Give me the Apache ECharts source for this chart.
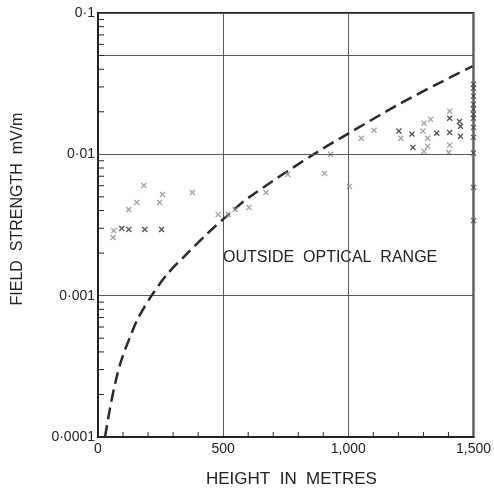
<!DOCTYPE html>
<html>
<head>
<meta charset="utf-8">
<script src="https://cdn.jsdelivr.net/npm/echarts@6/dist/echarts.min.js"></script>
<style>html,body{margin:0;padding:0;background:#fff}#c{width:494px;height:492px}</style>
</head>
<body>
<div id="c"></div>
<script>
// Height (m) ticks and field strength ticks
const xTickValues = [0, 500, 1000, 1500];
const xTickLabels = ['0', '500', '1,000', '1,500'];
const xMinorTicks = [100, 200, 300, 400, 600, 700, 800, 900, 1100, 1200, 1300, 1400];
const yTickValues = [0.0001, 0.001, 0.01, 0.1];
const yTickLabels = ['0·0001', '0·001', '0·01', '0·1'];
const extraGridY = [0.05, 0.005, 0.0005];
const yMinorTicks = [0.0002,0.0003,0.0004,0.0005,0.0006,0.0007,0.0008,0.0009,
                     0.002,0.003,0.004,0.005,0.006,0.007,0.008,0.009,
                     0.02,0.03,0.04,0.05,0.06,0.07,0.08,0.09];

// Dashed curve (theoretical)
const curveHeights = [28, 48, 71, 95, 127, 159, 214, 278, 357, 437, 504, 603, 869, 1008, 1198, 1345, 1496];
const curveField   = [0.0001, 0.00016, 0.00025, 0.000357, 0.000504, 0.000687, 0.001, 0.00143, 0.00199, 0.00275, 0.00352, 0.00496, 0.0102, 0.0143, 0.0224, 0.0308, 0.042];

// Measured points (light crosses)
const grayPoints = [
  [60,0.00258],[63,0.00289],[123,0.00407],[155,0.00457],[183,0.00603],[246,0.00457],
  [258,0.0052],[377,0.00537],[480,0.00375],[520,0.00375],[548,0.00407],[603,0.00421],
  [671,0.00537],[758,0.00721],[905,0.00733],[929,0.0100],[1004,0.00593],[1052,0.0130],
  [1103,0.0148],[1210,0.0130],[1302,0.0166],[1298,0.0146],[1329,0.0177],[1317,0.0130],
  [1317,0.0114],[1302,0.0105],[1405,0.0202],[1405,0.0116],[1401,0.0103]
];
// Measured points (dark crosses)
const blackPoints = [
  [95,0.00299],[123,0.00294],[187,0.00294],[254,0.00294],[1202,0.0146],[1254,0.0139],
  [1258,0.0112],[1353,0.0141],[1405,0.0180],[1405,0.0143],[1444,0.0171],[1448,0.0158],[1448,0.0134]
];
// Points at 1,500 m
const edgeHeights = [1500,1500,1500,1500,1500,1500,1500,1500,1500,1500,1500,1500];
const edgeField = [0.0313,0.0294,0.0258,0.0226,0.0209,0.0192,0.0180,0.0155,0.0132,0.0102,0.00583,0.00340];

const crossPath = 'path://M0,1.5 L1.5,0 L5,3.5 L8.5,0 L10,1.5 L6.5,5 L10,8.5 L8.5,10 L5,6.5 L1.5,10 L0,8.5 L3.5,5Z';
const FONT = '"Liberation Sans", Arial, sans-serif';

const chart = echarts.init(document.getElementById('c'));
chart.setOption({
  backgroundColor: '#fff',
  animation: false,
  grid: { left: 98, right: 18, top: 13, bottom: 55, show: true, borderColor: '#222', borderWidth: 2, backgroundColor: 'transparent' },
  xAxis: {
    type: 'value', min: 0, max: 1500, interval: 500,
    axisLine: { show: true, lineStyle: { color: '#222', width: 2 } },
    axisTick: { show: false },
    splitLine: { show: true, lineStyle: { color: '#5a5a5a', width: 1 } },
    axisLabel: {
      margin: 5, color: '#222', fontFamily: FONT, fontSize: 14,
      formatter: v => { const i = xTickValues.indexOf(Math.round(v)); return i >= 0 ? xTickLabels[i] : ''; }
    }
  },
  yAxis: {
    type: 'log', logBase: 10, min: 0.0001, max: 0.1,
    axisLine: { show: true, lineStyle: { color: '#222', width: 2 } },
    axisTick: { show: false },
    splitLine: { show: true, lineStyle: { color: '#5a5a5a', width: 1 } },
    axisLabel: {
      margin: 3, color: '#222', fontFamily: FONT, fontSize: 14,
      formatter: v => { const e = Math.round(Math.log10(v)); const i = yTickValues.findIndex(t => Math.round(Math.log10(t)) === e); return i >= 0 ? yTickLabels[i] : ''; }
    }
  },
  graphic: [
    { type: 'text', left: 223, top: 250, style: { text: 'OUTSIDE  OPTICAL  RANGE', font: '16px ' + FONT, fill: '#222' } },
    { type: 'text', left: 206, top: 471, style: { text: 'HEIGHT  IN  METRES', font: '17px ' + FONT, fill: '#222' } },
    { type: 'text', x: 18, y: 209, rotation: Math.PI / 2, style: { text: 'FIELD  STRENGTH  mV/m', font: '16px ' + FONT, fill: '#222', align: 'center', verticalAlign: 'middle' } }
  ],
  series: [
    {
      type: 'line', name: 'curve', data: curveHeights.map((h, i) => [h, curveField[i]]),
      smooth: 0.3, showSymbol: false, symbol: 'none',
      lineStyle: { color: '#2a2a2a', width: 2.5, type: [12, 6] },
      markLine: {
        silent: true, symbol: 'none', label: { show: false },
        lineStyle: { color: '#5a5a5a', width: 1, type: 'solid' },
        data: extraGridY.map(v => ({ yAxis: v }))
      },
      z: 3
    },
    {
      type: 'scatter', name: 'light', data: grayPoints, symbol: crossPath, symbolSize: 6,
      itemStyle: { color: '#8a8a8a' }, z: 4
    },
    {
      type: 'scatter', name: 'dark', data: blackPoints, symbol: crossPath, symbolSize: 6,
      itemStyle: { color: '#222' }, z: 4
    },
    {
      type: 'scatter', name: 'edge', data: edgeHeights.map((h, i) => [h, edgeField[i]]), symbol: crossPath, symbolSize: 6,
      itemStyle: { color: '#444' }, z: 4
    },
    {
      type: 'custom', name: 'yminor', silent: true, z: 5, clip: false,
      encode: { x: 0, y: 1 },
      data: yMinorTicks.map(v => [0, v]),
      renderItem: function (params, api) {
        const p = api.coord([api.value(0), api.value(1)]);
        return { type: 'line', shape: { x1: p[0], y1: p[1], x2: p[0] + 6, y2: p[1] }, style: { stroke: '#222', lineWidth: 1 } };
      }
    },
    {
      type: 'custom', name: 'xminor', silent: true, z: 5, clip: false,
      encode: { x: 0, y: 1 },
      data: xMinorTicks.map(v => [v, 0.0001]),
      renderItem: function (params, api) {
        const p = api.coord([api.value(0), api.value(1)]);
        return { type: 'line', shape: { x1: p[0], y1: p[1], x2: p[0], y2: p[1] - 5 }, style: { stroke: '#222', lineWidth: 1 } };
      }
    }
  ]
});
</script>
</body>
</html>
